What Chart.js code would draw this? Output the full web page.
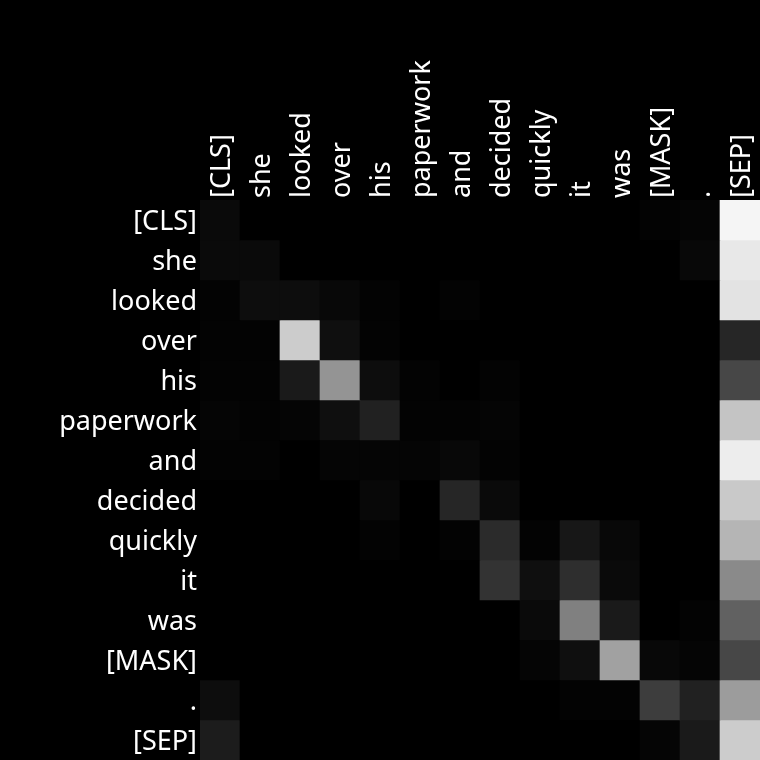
<!DOCTYPE html>
<html>
<head>
<meta charset="utf-8">
<script src="https://cdn.jsdelivr.net/npm/chart.js@4"></script>
<style>
  html, body { margin: 0; padding: 0; background: #000; }
  #wrap { width: 760px; height: 760px; }
</style>
</head>
<body>
<div id="wrap"><canvas id="attentionMap" width="760" height="760"></canvas></div>
<script>
// Tokens of the sentence, used for both axes
const TOKENS = [
  "[CLS]", "she", "looked", "over", "his", "paperwork", "and",
  "decided", "quickly", "it", "was", "[MASK]", ".", "[SEP]",
];

// Attention weights (row = query token, column = key token)
const ROW_CLS = [0.04, 0, 0, 0, 0, 0, 0, 0, 0, 0, 0, 0.01, 0.02, 0.96];
const ROW_SHE = [0.04, 0.04, 0, 0, 0, 0, 0, 0, 0, 0, 0, 0, 0.03, 0.91];
const ROW_LOOKED = [0.01, 0.05, 0.05, 0.03, 0.01, 0, 0.01, 0, 0, 0, 0, 0, 0, 0.89];
const ROW_OVER = [0.01, 0.01, 0.8, 0.06, 0.01, 0, 0, 0, 0, 0, 0, 0, 0, 0.15];
const ROW_HIS = [0.01, 0.01, 0.1, 0.58, 0.05, 0.01, 0, 0.01, 0, 0, 0, 0, 0, 0.28];
const ROW_PAPERWORK = [0.02, 0.01, 0.02, 0.06, 0.13, 0.01, 0.01, 0.02, 0, 0, 0, 0, 0, 0.77];
const ROW_AND = [0.01, 0.01, 0, 0.02, 0.02, 0.02, 0.03, 0.01, 0, 0, 0, 0, 0, 0.93];
const ROW_DECIDED = [0, 0, 0, 0, 0.03, 0, 0.15, 0.04, 0, 0, 0, 0, 0, 0.79];
const ROW_QUICKLY = [0, 0, 0, 0, 0.01, 0, 0.01, 0.17, 0.01, 0.09, 0.03, 0, 0, 0.71];
const ROW_IT = [0, 0, 0, 0, 0, 0, 0, 0.2, 0.06, 0.18, 0.04, 0, 0, 0.54];
const ROW_WAS = [0, 0, 0, 0, 0, 0, 0, 0, 0.04, 0.5, 0.1, 0, 0.01, 0.38];
const ROW_MASK = [0, 0, 0, 0, 0, 0, 0, 0, 0.02, 0.06, 0.63, 0.03, 0.02, 0.28];
const ROW_PERIOD = [0.05, 0, 0, 0, 0, 0, 0, 0, 0, 0.01, 0.01, 0.24, 0.13, 0.61];
const ROW_SEP = [0.11, 0, 0, 0, 0, 0, 0, 0, 0, 0, 0, 0.02, 0.1, 0.8];

const ATTENTION = [
  ROW_CLS, ROW_SHE, ROW_LOOKED, ROW_OVER, ROW_HIS, ROW_PAPERWORK, ROW_AND,
  ROW_DECIDED, ROW_QUICKLY, ROW_IT, ROW_WAS, ROW_MASK, ROW_PERIOD, ROW_SEP,
];

const LABEL_FONT = { family: "'Noto Sans', 'Open Sans', sans-serif", size: 27 };

// Grayscale colormap: 0 -> black, 1 -> white
const grayColor = (v) => {
  const g = Math.round(Math.max(0, Math.min(1, v)) * 255);
  return `rgb(${g}, ${g}, ${g})`;
};

// One floating-bar dataset per row; each bar spans [row, row + 1]
const datasets = ATTENTION.map((row, r) => ({
  label: TOKENS[r],
  data: row.map(() => [r, r + 1]),
  backgroundColor: row.map(grayColor),
  borderWidth: 0,
  borderSkipped: false,
  grouped: false,
  barPercentage: 1,
  categoryPercentage: 1,
}));

const ctx = document.getElementById("attentionMap");

new Chart(ctx, {
  type: "bar",
  data: {
    labels: TOKENS,
    datasets: datasets,
  },
  options: {
    responsive: false,
    animation: false,
    layout: { padding: 0 },
    plugins: {
      legend: { display: false },
      tooltip: { enabled: false },
    },
    scales: {
      x: {
        type: "category",
        position: "top",
        offset: true,
        grid: { display: false, drawTicks: false },
        border: { display: false },
        ticks: {
          color: "#ffffff",
          font: LABEL_FONT,
          minRotation: 90,
          maxRotation: 90,
          autoSkip: false,
          padding: 2,
          // rotated top labels get pushed left by Chart.js, move them back over the column
          labelOffset: 35,
        },
        afterFit: (scale) => {
          scale.height = 200;
          scale.paddingLeft = 0;
          scale.paddingRight = 0;
        },
      },
      y: {
        type: "linear",
        position: "left",
        reverse: true,
        min: 0,
        max: TOKENS.length,
        grid: { display: false, drawTicks: false },
        border: { display: false },
        afterBuildTicks: (scale) => {
          // Put one tick at the middle of every row
          scale.ticks = TOKENS.map((_, i) => ({ value: i + 0.5 }));
        },
        ticks: {
          color: "#ffffff",
          font: LABEL_FONT,
          autoSkip: false,
          padding: 3,
          labelOffset: 2,
          callback: (value, index) => TOKENS[index],
        },
        afterFit: (scale) => {
          scale.width = 200;
          scale.paddingTop = 0;
          scale.paddingBottom = 0;
        },
      },
    },
  },
});
</script>
</body>
</html>
